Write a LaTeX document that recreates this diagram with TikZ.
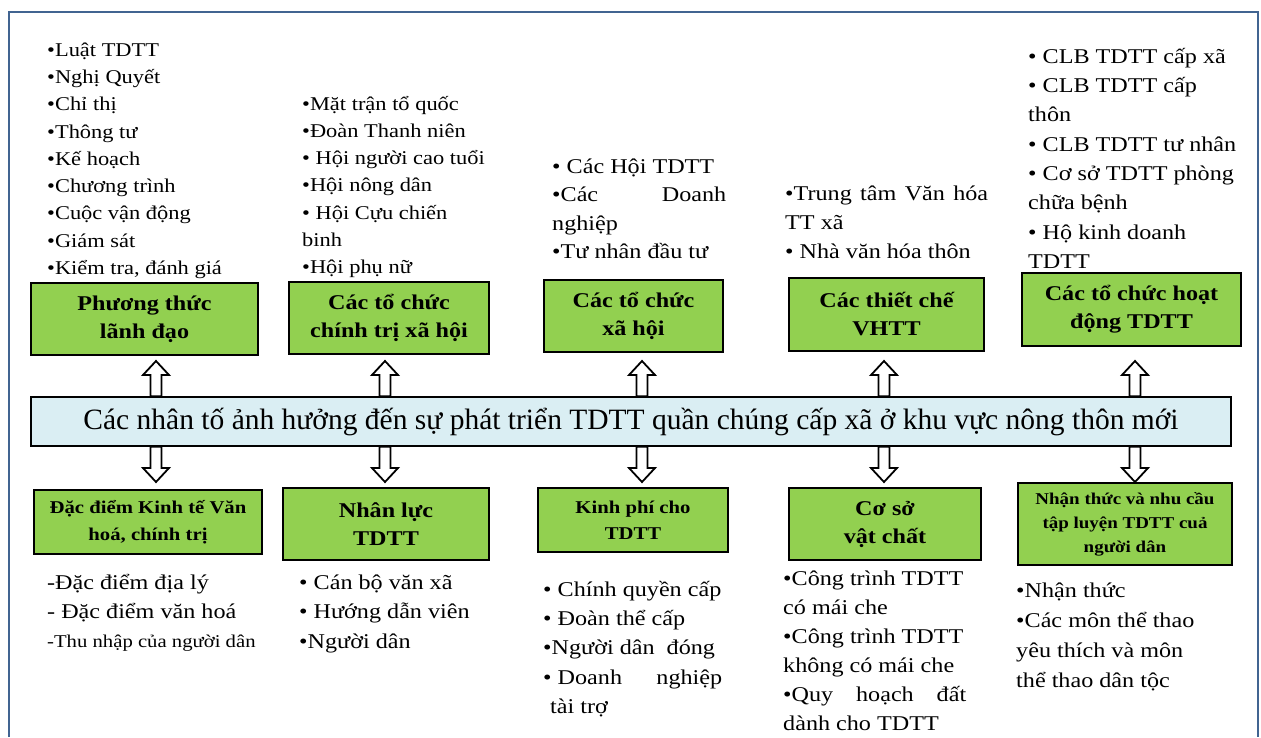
\documentclass[tikz,border=0pt]{standalone}
\usepackage{fontspec}
\setmainfont[FakeStretch=1.15]{Liberation Serif}
\newfontfamily\hubfont{Liberation Serif}
\usetikzlibrary{calc}

\definecolor{frameblue}{RGB}{65,100,145}
\definecolor{leafgreen}{RGB}{146,208,80}
\definecolor{paleblue}{RGB}{218,238,243}

\tikzset{
  factor/.style={draw=black, line width=1.6pt, fill=leafgreen, align=center,
    inner sep=0pt, font=\bfseries\fontsize{21}{28}\selectfont},
  hub/.style={draw=black, line width=1.6pt, fill=paleblue, inner sep=0pt,
    minimum width=1200pt, minimum height=49pt, font=\hubfont\fontsize{29.5}{32}\selectfont},
  items/.style={anchor=north west, inner sep=0pt, align=left},
  blk/.style={draw=black, line width=1.8pt, fill=white,
    to path={
      ($(\tikztostart)!5.5pt!90:(\tikztotarget)$)
      -- ($(\tikztotarget)!14pt!(\tikztostart)!5.5pt!-90:(\tikztostart)$)
      -- ($(\tikztotarget)!14pt!(\tikztostart)!13pt!-90:(\tikztostart)$)
      -- (\tikztotarget)
      -- ($(\tikztotarget)!14pt!(\tikztostart)!13pt!90:(\tikztostart)$)
      -- ($(\tikztotarget)!14pt!(\tikztostart)!5.5pt!90:(\tikztostart)$)
      -- ($(\tikztostart)!5.5pt!-90:(\tikztotarget)$)
      -- cycle}}
}

\begin{document}
\begin{tikzpicture}[x=1pt, y=-1pt]
\useasboundingbox (0,0) rectangle (1261,737);
\fill[white] (0,0) rectangle (1261,737);

% outer frame (open at the bottom edge)
\draw[frameblue, line width=2.5pt] (9,737) -- (9,12) -- (1258,12) -- (1258,737);

% central hub
\node[hub] (hub) at (631,421.5)
  {Các nhân tố ảnh hưởng đến sự phát triển TDTT quần chúng cấp xã ở khu vực nông thôn mới};

% upper factors
\node[factor, minimum width=227pt, minimum height=72pt] (t1) at (144.5,319) {Phương thức\\lãnh đạo};
\node[factor, minimum width=200pt, minimum height=72pt] (t2) at (389,318) {Các tổ chức\\chính trị xã hội};
\node[factor, minimum width=179pt, minimum height=72pt] (t3) at (633.5,316) {Các tổ chức\\xã hội};
\node[factor, minimum width=195pt, minimum height=73pt] (t4) at (886.5,314.5) {Các thiết chế\\VHTT};
\node[factor, minimum width=219pt, minimum height=73pt] (t5) at (1131.5,309.5) {Các tổ chức hoạt\\động TDTT};

% lower factors
\node[factor, minimum width=228pt, minimum height=64pt, font=\bfseries\fontsize{18}{27}\selectfont] (b1) at (148,522) {Đặc điểm Kinh tế Văn\\hoá, chính trị};
\node[factor, minimum width=206pt, minimum height=72pt] (b2) at (386,524) {Nhân lực\\TDTT};
\node[factor, minimum width=190pt, minimum height=64pt, font=\bfseries\fontsize{18}{26}\selectfont] (b3) at (633,520) {Kinh phí cho\\TDTT};
\node[factor, minimum width=192pt, minimum height=72pt] (b4) at (885,524) {Cơ sở\\vật chất};
\node[factor, minimum width=214pt, minimum height=82pt, font=\bfseries\fontsize{16.5}{24}\selectfont] (b5) at (1125,524) {Nhận thức và nhu cầu\\tập luyện TDTT cuả\\người dân};

% arrow tips
\coordinate (u1) at (156,361);  \coordinate (d1) at (156,482);
\coordinate (u2) at (385,361);  \coordinate (d2) at (385,482);
\coordinate (u3) at (642,361);  \coordinate (d3) at (642,482);
\coordinate (u4) at (884,361);  \coordinate (d4) at (884,482);
\coordinate (u5) at (1135,361); \coordinate (d5) at (1135,482);

\foreach \k in {1,...,5}{
  \draw[blk] (hub.north -| u\k) to (u\k);
  \draw[blk] (hub.south -| d\k) to (d\k);
}

% item lists above the upper factors
\node[items, font=\fontsize{19.5}{27.25}\selectfont] (l1) at (47,37)
  {\strut•Luật TDTT\\•Nghị Quyết\\•Chỉ thị\\•Thông tư\\•Kế hoạch\\•Chương trình\\•Cuộc vận động\\•Giám sát\\•Kiểm tra, đánh giá};
\node[items, font=\fontsize{19.5}{27.2}\selectfont] (l2) at (302,91)
  {\strut•Mặt trận tổ quốc\\•Đoàn Thanh niên\\• Hội người cao tuổi\\•Hội nông dân\\• Hội Cựu chiến\\binh\\•Hội phụ nữ};
\node[items, font=\fontsize{21}{28.5}\selectfont] (l3) at (552,153)
  {\strut• Các Hội TDTT\\\makebox[174pt][l]{•Các\hfill Doanh}\\nghiệp\\•Tư nhân đầu tư};
\node[items, font=\fontsize{21}{29}\selectfont] (l4) at (785,180)
  {\strut\makebox[203pt][s]{•Trung tâm Văn hóa}\\TT xã\\• Nhà văn hóa thôn};
\node[items, font=\fontsize{21}{29.3}\selectfont] (l5) at (1028,42.5)
  {\strut• CLB TDTT cấp xã\\• CLB TDTT cấp\\thôn\\• CLB TDTT tư nhân\\• Cơ sở TDTT phòng\\chữa bệnh\\• Hộ kinh doanh\\TDTT};

% item lists below the lower factors
\node[items, font=\fontsize{21}{29}\selectfont] (m1) at (47,569)
  {\strut-Đặc điểm địa lý\\- Đặc điểm văn hoá\\{\fontsize{18}{29}\selectfont -Thu nhập của người dân}};
\node[items, font=\fontsize{21}{29.5}\selectfont] (m2) at (299,568.5)
  {\strut• Cán bộ văn xã\\• Hướng dẫn viên\\•Người dân};
\node[items, font=\fontsize{21}{29.3}\selectfont] (m3) at (543,575.5)
  {\strut• Chính quyền cấp\\• Đoàn thể cấp\\•Người dân \ đóng\\\makebox[179pt][l]{• Doanh\hfill nghiệp}\\\hspace*{7pt}tài trợ};
\node[items, font=\fontsize{21}{29}\selectfont] (m4) at (783,564.7)
  {\strut•Công trình TDTT\\có mái che\\•Công trình TDTT\\không có mái che\\\makebox[183pt][s]{•Quy hoạch đất}\\dành cho TDTT};
\node[items, font=\fontsize{21}{30}\selectfont] (m5) at (1016,576)
  {\strut•Nhận thức\\•Các môn thể thao\\yêu thích và môn\\thể thao dân tộc};
\end{tikzpicture}
\end{document}
